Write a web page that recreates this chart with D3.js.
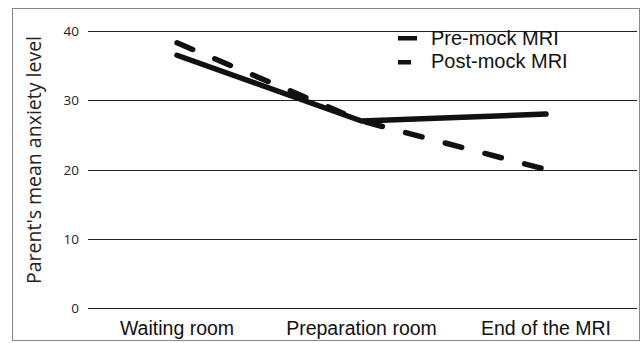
<!DOCTYPE html>
<html>
<head>
<meta charset="utf-8">
<script src="https://cdn.jsdelivr.net/npm/d3@7"></script>
<style>
  body { margin: 0; background: #fff; }
  svg { display: block; }
</style>
</head>
<body>
<div id="chart"></div>
<script>
// data
var categories = ["Waiting room", "Preparation room", "End of the MRI"];
var preMock = [36.5, 27.0, 28.0];
var postMock = [38.3, 27.0, 20.0];
var yTicks = [0, 10, 20, 30, 40];
var seriesNames = ["Pre-mock MRI", "Post-mock MRI"];

var width = 643, height = 343;
var margin = {top: 32, right: 6, bottom: 35, left: 88};

var svg = d3.select("#chart")
  .append("svg")
  .attr("width", width)
  .attr("height", height);

// outer frame
svg.append("rect")
  .attr("x", 12.5).attr("y", 8.5)
  .attr("width", 627).attr("height", 332)
  .attr("fill", "none")
  .attr("stroke", "#888")
  .attr("stroke-width", 1);

var x = d3.scalePoint()
  .domain(categories)
  .range([177, 546]);

var y = d3.scaleLinear()
  .domain([0, 40])
  .range([308, 31]);

// horizontal gridlines
svg.append("g")
  .selectAll("line")
  .data(yTicks)
  .join("line")
  .attr("x1", margin.left)
  .attr("x2", 637)
  .attr("y1", d => Math.round(y(d)) + 0.5)
  .attr("y2", d => Math.round(y(d)) + 0.5)
  .attr("stroke", "#222")
  .attr("stroke-width", 1.2);

// y tick labels
svg.append("g")
  .selectAll("text")
  .data(yTicks)
  .join("text")
  .attr("x", 79)
  .attr("y", d => y(d) + 5)
  .attr("text-anchor", "end")
  .attr("font-family", "Open Sans, sans-serif")
  .attr("font-size", 13.5)
  .attr("fill", "#222")
  .text(d => d);

// y axis title
svg.append("text")
  .attr("transform", "translate(41,160) rotate(-90)")
  .attr("text-anchor", "middle")
  .attr("font-family", "Open Sans, sans-serif")
  .attr("font-size", 19.5)
  .attr("fill", "#222")
  .text("Parent's mean anxiety level");

// x category labels
svg.append("g")
  .selectAll("text")
  .data(categories)
  .join("text")
  .attr("x", d => x(d))
  .attr("y", 335)
  .attr("text-anchor", "middle")
  .attr("font-family", "Liberation Sans, Arial, sans-serif")
  .attr("font-size", 19.5)
  .attr("fill", "#111")
  .text(d => d);

var line = d3.line()
  .x((d, i) => x(categories[i]))
  .y(d => y(d));

svg.append("path")
  .datum(postMock)
  .attr("d", line)
  .attr("fill", "none")
  .attr("stroke", "#111")
  .attr("stroke-width", 5.5)
  .attr("stroke-linecap", "round")
  .attr("stroke-dasharray", "17,24");

svg.append("path")
  .datum(preMock)
  .attr("d", line)
  .attr("fill", "none")
  .attr("stroke", "#111")
  .attr("stroke-width", 5.5)
  .attr("stroke-linecap", "round")
  .attr("stroke-linejoin", "round");

// legend
var legend = svg.append("g");
legend.append("rect").attr("x", 398).attr("y", 36).attr("width", 19).attr("height", 4.5).attr("fill", "#111");
legend.append("rect").attr("x", 398).attr("y", 60).attr("width", 13).attr("height", 4.5).attr("fill", "#111");
legend.selectAll("text")
  .data(seriesNames)
  .join("text")
  .attr("x", 431)
  .attr("y", (d, i) => 45 + i * 23)
  .attr("font-family", "Liberation Sans, Arial, sans-serif")
  .attr("font-size", 20)
  .attr("fill", "#111")
  .text(d => d);
</script>
</body>
</html>
